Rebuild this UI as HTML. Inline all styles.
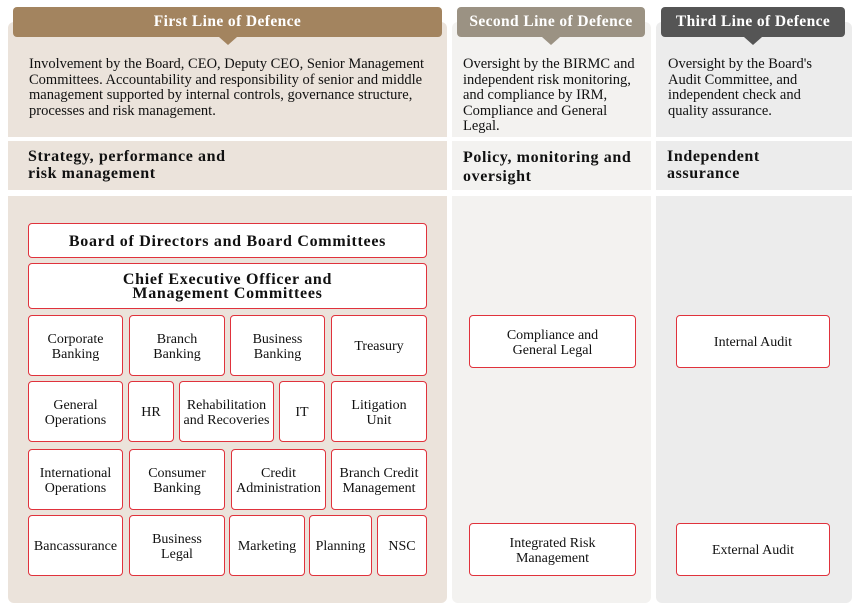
<!DOCTYPE html>
<html><head><meta charset="utf-8"><style>
body{margin:0;width:859px;height:613px;background:#fff;font-family:"Liberation Serif",serif;color:#111;position:relative;overflow:hidden}
.a{position:absolute;box-sizing:border-box}
.hd{color:#fff;font-weight:bold;font-size:15.5px;text-align:center;line-height:29px;border-radius:4px;letter-spacing:.4px}
.hd:after{content:"";position:absolute;left:50%;bottom:-8px;margin-left:-9px;border-left:9px solid transparent;border-right:9px solid transparent;border-top:8px solid var(--c)}
.t{font-size:14.5px;line-height:15.5px;white-space:nowrap}
.b{font-weight:bold;font-size:16px;line-height:17px;letter-spacing:.6px;white-space:nowrap}
.bx{background:#fff;border:1px solid #e0323c;border-radius:4px;display:flex;align-items:center;justify-content:center;text-align:center;font-size:14px;line-height:15px;white-space:nowrap;padding-top:2px}
.bb{font-weight:bold;font-size:16px;letter-spacing:.7px}
</style></head><body>
<div class="a" style="left:8px;top:22px;width:439px;height:115px;background:#ebe3db;border-radius:6px 6px 0 0"></div>
<div class="a" style="left:452px;top:22px;width:199px;height:115px;background:#f3f2f0;border-radius:6px 6px 0 0"></div>
<div class="a" style="left:656px;top:22px;width:196px;height:115px;background:#ececec;border-radius:6px 6px 0 0"></div>
<div class="a" style="left:8px;top:141px;width:439px;height:49px;background:#ebe3db"></div>
<div class="a" style="left:452px;top:141px;width:199px;height:49px;background:#f3f2f0"></div>
<div class="a" style="left:656px;top:141px;width:196px;height:49px;background:#ececec"></div>
<div class="a" style="left:8px;top:196px;width:439px;height:407px;background:#ebe3db;border-radius:0 0 6px 6px"></div>
<div class="a" style="left:452px;top:196px;width:199px;height:407px;background:#f3f2f0;border-radius:0 0 6px 6px"></div>
<div class="a" style="left:656px;top:196px;width:196px;height:407px;background:#ececec;border-radius:0 0 6px 6px"></div>

<div class="a hd" style="left:13px;top:7px;width:429px;height:30px;background:#a3845f;--c:#a3845f">First Line of Defence</div>
<div class="a hd" style="left:457px;top:7px;width:188px;height:30px;background:#9b9283;--c:#9b9283">Second Line of Defence</div>
<div class="a hd" style="left:661px;top:7px;width:184px;height:30px;background:#555;--c:#555">Third Line of Defence</div>

<div class="a t" style="left:29px;top:57px">Involvement by the Board, CEO, Deputy CEO, Senior Management<br>Committees. Accountability and responsibility of senior and middle<br>management supported by internal controls, governance structure,<br>processes and risk management.</div>
<div class="a t" style="left:463px;top:57px">Oversight by the BIRMC and<br>independent risk monitoring,<br>and compliance by IRM,<br>Compliance and General<br>Legal.</div>
<div class="a t" style="left:668px;top:57px">Oversight by the Board's<br>Audit Committee, and<br>independent check and<br>quality assurance.</div>

<div class="a b" style="left:28px;top:148px">Strategy, performance and<br>risk management</div>
<div class="a b" style="left:463px;top:148px;line-height:19px">Policy, monitoring and<br>oversight</div>
<div class="a b" style="left:667px;top:148px">Independent<br>assurance</div>

<div class="a bx bb" style="left:28px;top:223px;width:399px;height:35px">Board of Directors and Board Committees</div>
<div class="a bx bb" style="left:28px;top:263px;width:399px;height:46px;line-height:14px">Chief Executive Officer and<br>Management Committees</div>

<div class="a bx" style="left:28px;top:315px;width:95px;height:61px">Corporate<br>Banking</div>
<div class="a bx" style="left:129px;top:315px;width:96px;height:61px">Branch<br>Banking</div>
<div class="a bx" style="left:230px;top:315px;width:95px;height:61px">Business<br>Banking</div>
<div class="a bx" style="left:331px;top:315px;width:96px;height:61px">Treasury</div>

<div class="a bx" style="left:28px;top:381px;width:95px;height:61px">General<br>Operations</div>
<div class="a bx" style="left:128px;top:381px;width:46px;height:61px">HR</div>
<div class="a bx" style="left:179px;top:381px;width:95px;height:61px">Rehabilitation<br>and Recoveries</div>
<div class="a bx" style="left:279px;top:381px;width:46px;height:61px">IT</div>
<div class="a bx" style="left:331px;top:381px;width:96px;height:61px">Litigation<br>Unit</div>

<div class="a bx" style="left:28px;top:449px;width:95px;height:61px">International<br>Operations</div>
<div class="a bx" style="left:129px;top:449px;width:96px;height:61px">Consumer<br>Banking</div>
<div class="a bx" style="left:231px;top:449px;width:95px;height:61px">Credit<br>Administration</div>
<div class="a bx" style="left:331px;top:449px;width:96px;height:61px">Branch Credit<br>Management</div>

<div class="a bx" style="left:28px;top:515px;width:95px;height:61px">Bancassurance</div>
<div class="a bx" style="left:129px;top:515px;width:96px;height:61px">Business<br>Legal</div>
<div class="a bx" style="left:229px;top:515px;width:76px;height:61px">Marketing</div>
<div class="a bx" style="left:309px;top:515px;width:63px;height:61px">Planning</div>
<div class="a bx" style="left:377px;top:515px;width:50px;height:61px">NSC</div>

<div class="a bx" style="left:469px;top:315px;width:167px;height:53px">Compliance and<br>General Legal</div>
<div class="a bx" style="left:469px;top:523px;width:167px;height:53px">Integrated Risk<br>Management</div>
<div class="a bx" style="left:676px;top:315px;width:154px;height:53px">Internal Audit</div>
<div class="a bx" style="left:676px;top:523px;width:154px;height:53px">External Audit</div>
</body></html>
